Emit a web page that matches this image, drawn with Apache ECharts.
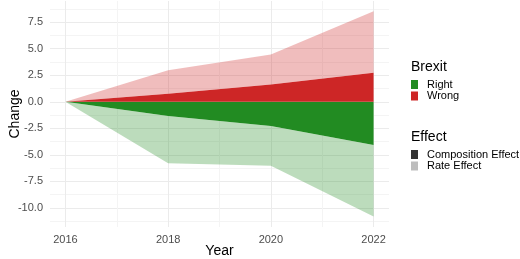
<!DOCTYPE html>
<html>
<head>
<meta charset="utf-8">
<script src="https://cdn.jsdelivr.net/npm/echarts@6/dist/echarts.min.js"></script>
<style>
  html, body { margin: 0; padding: 0; background: #fff; }
  #main { width: 520px; height: 259px; }
</style>
</head>
<body>
<div id="main"></div>
<script>
// data
var years = [2016, 2018, 2020, 2022];
var rightComposition = [0, -1.35, -2.29, -4.07];
var rightRate = [0, -4.45, -3.73, -6.75];
var wrongComposition = [0, 0.75, 1.63, 2.73];
var wrongRate = [0, 2.23, 2.83, 5.8];

var xMajor = [2016, 2018, 2020, 2022];
var xMinor = [2017, 2019, 2021];
var yMajor = [-10, -7.5, -5, -2.5, 0, 2.5, 5, 7.5];
var yMinor = [-11.25, -8.75, -6.25, -3.75, -1.25, 1.25, 3.75, 6.25, 8.75];

var green = '#228B22';
var red = '#CD2626';
var font = 'Liberation Sans, Arial, sans-serif';

// value first so that the stack works on the y dimension
function pairs(vals) {
    return years.map(function (y, i) { return [vals[i], y]; });
}

function area(name, stack, vals, color, alpha) {
    return {
        name: name,
        type: 'line',
        stack: stack,
        data: pairs(vals),
        encode: { x: 1, y: 0 },
        color: color,
        symbol: 'none',
        showSymbol: false,
        lineStyle: { width: 0 },
        areaStyle: { color: color, opacity: alpha },
        silent: true
    };
}

function legendBox(names, top) {
    return {
        data: names,
        orient: 'vertical', left: 411, top: top, padding: 0,
        icon: 'rect', itemWidth: 7, itemHeight: 9, itemGap: 0.5,
        selectedMode: false,
        textStyle: { fontSize: 11, color: '#000', lineHeight: 10, padding: [0, 0, 0, 4] }
    };
}

var myChart = echarts.init(document.getElementById('main'));

var gridLine = { lineStyle: { color: '#EBEBEB', width: 1 } };
var minorLine = { lineStyle: { color: '#F4F4F4', width: 1 } };

myChart.setOption({
    animation: false,
    textStyle: { fontFamily: font },
    grid: { left: 50, right: 131, top: 1, bottom: 32, outerBoundsMode: 'none' },
    xAxis: [{
        type: 'value', min: 2015.7, max: 2022.3,
        name: 'Year', nameLocation: 'middle', nameGap: 24, nameMoveOverlap: false,
        nameTextStyle: { fontSize: 14, color: '#000', fontFamily: font, verticalAlign: 'middle' },
        axisLine: { show: false },
        axisTick: { show: false, customValues: xMajor },
        axisLabel: {
            customValues: xMajor, color: '#4D4D4D', fontSize: 11, margin: 7,
            formatter: function (v) { return String(v); }
        },
        splitLine: gridLine
    }, {
        type: 'value', min: 2015.7, max: 2022.3, position: 'bottom',
        axisLine: { show: false },
        axisTick: { show: false, customValues: xMinor },
        axisLabel: { show: false },
        splitLine: minorLine
    }],
    yAxis: [{
        type: 'value', min: -11.8, max: 9.5,
        name: 'Change', nameLocation: 'middle', nameGap: 35, nameRotate: 90, nameMoveOverlap: false,
        nameTextStyle: { fontSize: 14, color: '#000', fontFamily: font, verticalAlign: 'middle' },
        axisLine: { show: false },
        axisTick: { show: false, customValues: yMajor },
        axisLabel: {
            customValues: yMajor, color: '#4D4D4D', fontSize: 11, margin: 7,
            formatter: function (v) { return v.toFixed(1); }
        },
        splitLine: gridLine
    }, {
        type: 'value', min: -11.8, max: 9.5, position: 'left',
        axisLine: { show: false },
        axisTick: { show: false, customValues: yMinor },
        axisLabel: { show: false },
        splitLine: minorLine
    }],
    legend: [
        legendBox(['Right', 'Wrong'], 79),
        legendBox(['Composition Effect', 'Rate Effect'], 149)
    ],
    graphic: [
        { type: 'text', left: 411, top: 60, style: { text: 'Brexit', fontSize: 14, fill: '#000', fontFamily: font } },
        { type: 'text', left: 411, top: 130, style: { text: 'Effect', fontSize: 14, fill: '#000', fontFamily: font } }
    ],
    series: [
        area('Right composition', 'right', rightComposition, green, 1),
        area('Right rate', 'right', rightRate, green, 0.3),
        area('Wrong composition', 'wrong', wrongComposition, red, 1),
        area('Wrong rate', 'wrong', wrongRate, red, 0.3),
        // legend-only entries
        { name: 'Right', type: 'line', data: [], color: green },
        { name: 'Wrong', type: 'line', data: [], color: red },
        { name: 'Composition Effect', type: 'line', data: [], color: '#333333' },
        { name: 'Rate Effect', type: 'line', data: [], color: '#BDBDBD' }
    ]
});
</script>
</body>
</html>
